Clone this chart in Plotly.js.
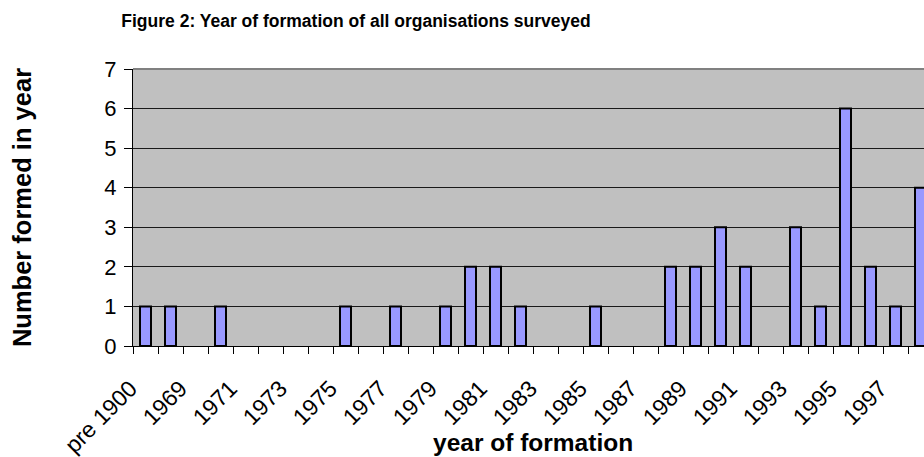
<!DOCTYPE html>
<html>
<head>
<meta charset="utf-8">
<script src="https://cdn.plot.ly/plotly-3.0.1.min.js"></script>
<style>
html, body { margin: 0; padding: 0; overflow: hidden; background: #fff; }
#chart { width: 960px; height: 457px; }
</style>
</head>
<body>
<div id="chart"></div>
<script>
const categories = ["pre 1900", "1968", "1969", "1970", "1971", "1972", "1973", "1974",
  "1975", "1976", "1977", "1978", "1979", "1980", "1981", "1982",
  "1983", "1984", "1985", "1986", "1987", "1988", "1989", "1990",
  "1991", "1992", "1993", "1994", "1995", "1996", "1997", "1998"];
const counts = [1, 1, 0, 1, 0, 0, 0, 0,
  1, 0, 1, 0, 1, 2, 2, 1,
  0, 0, 1, 0, 0, 2, 2, 3,
  2, 0, 3, 1, 6, 2, 1, 4];
const tickLabels = categories.map((c, i) => (i % 2 === 0 ? c : ""));
const yTicks = [0, 1, 2, 3, 4, 5, 6, 7];

const titleText = "Figure 2: Year of formation of all organisations surveyed";
const xTitle = "year of formation";
const yTitle = "Number formed in year";

const W = 960, H = 457;
const PLOT_TOP = 69, PLOT_BOTTOM = 346;
const font = "Liberation Sans, Arial, sans-serif";

const trace = {
  type: "bar",
  x: categories,
  y: counts,
  marker: {
    color: "#9999FF",
    line: { color: "#000000", width: counts.map(v => (v > 0 ? 2 : 0)) }
  },
  hoverinfo: "x+y"
};

const layout = {
  width: W, height: H,
  margin: { l: 133, r: W - 933, t: PLOT_TOP, b: H - PLOT_BOTTOM, pad: 0 },
  paper_bgcolor: "#ffffff",
  plot_bgcolor: "#C0C0C0",
  bargap: 0.56,
  showlegend: false,
  font: { family: font, color: "#000" },
  title: {
    text: "<b>" + titleText + "</b>",
    font: { family: font, size: 17.5, color: "#000" },
    xref: "container", yref: "container",
    x: 356 / W, xanchor: "center",
    y: 1 - 21 / H, yanchor: "middle"
  },
  xaxis: {
    type: "category",
    categoryorder: "array", categoryarray: categories,
    range: [-0.5, categories.length - 0.5],
    tickmode: "array", tickvals: categories, ticktext: tickLabels,
    tickson: "boundaries",
    ticks: "outside", ticklen: 7, tickwidth: 1, tickcolor: "#000",
    tickangle: -45,
    ticklabelstandoff: 19,
    ticklabelshift: -15,
    tickfont: { family: font, size: 23, color: "#000" },
    showline: true, linecolor: "#000", linewidth: 1,
    showgrid: false, zeroline: false,
    fixedrange: true
  },
  yaxis: {
    range: [0, 7],
    tickmode: "array", tickvals: yTicks,
    ticks: "outside", ticklen: 8, tickwidth: 1, tickcolor: "#000",
    ticklabelstandoff: 3,
    tickfont: { family: font, size: 22, color: "#000" },
    showline: true, linecolor: "#000", linewidth: 1,
    showgrid: true, gridcolor: "#1a1a1a", gridwidth: 1,
    zeroline: false,
    fixedrange: true,
    title: { text: "<b>" + yTitle + "</b>", font: { family: font, size: 25.5, color: "#000" }, standoff: 65 }
  },
  annotations: [
    {
      text: "<b>" + xTitle + "</b>",
      xref: "paper", yref: "paper",
      x: 0.5, xanchor: "center",
      y: (PLOT_BOTTOM - 442) / (PLOT_BOTTOM - PLOT_TOP), yanchor: "middle",
      showarrow: false,
      font: { family: font, size: 24.5, color: "#000" }
    }
  ],
  shapes: [
    { type: "line", xref: "paper", yref: "paper", x0: 0, x1: 1, y0: 1, y1: 1,
      line: { color: "#808080", width: 2 }, layer: "above" }
  ]
};

Plotly.newPlot("chart", [trace], layout, { displayModeBar: false, staticPlot: true });
</script>
</body>
</html>
